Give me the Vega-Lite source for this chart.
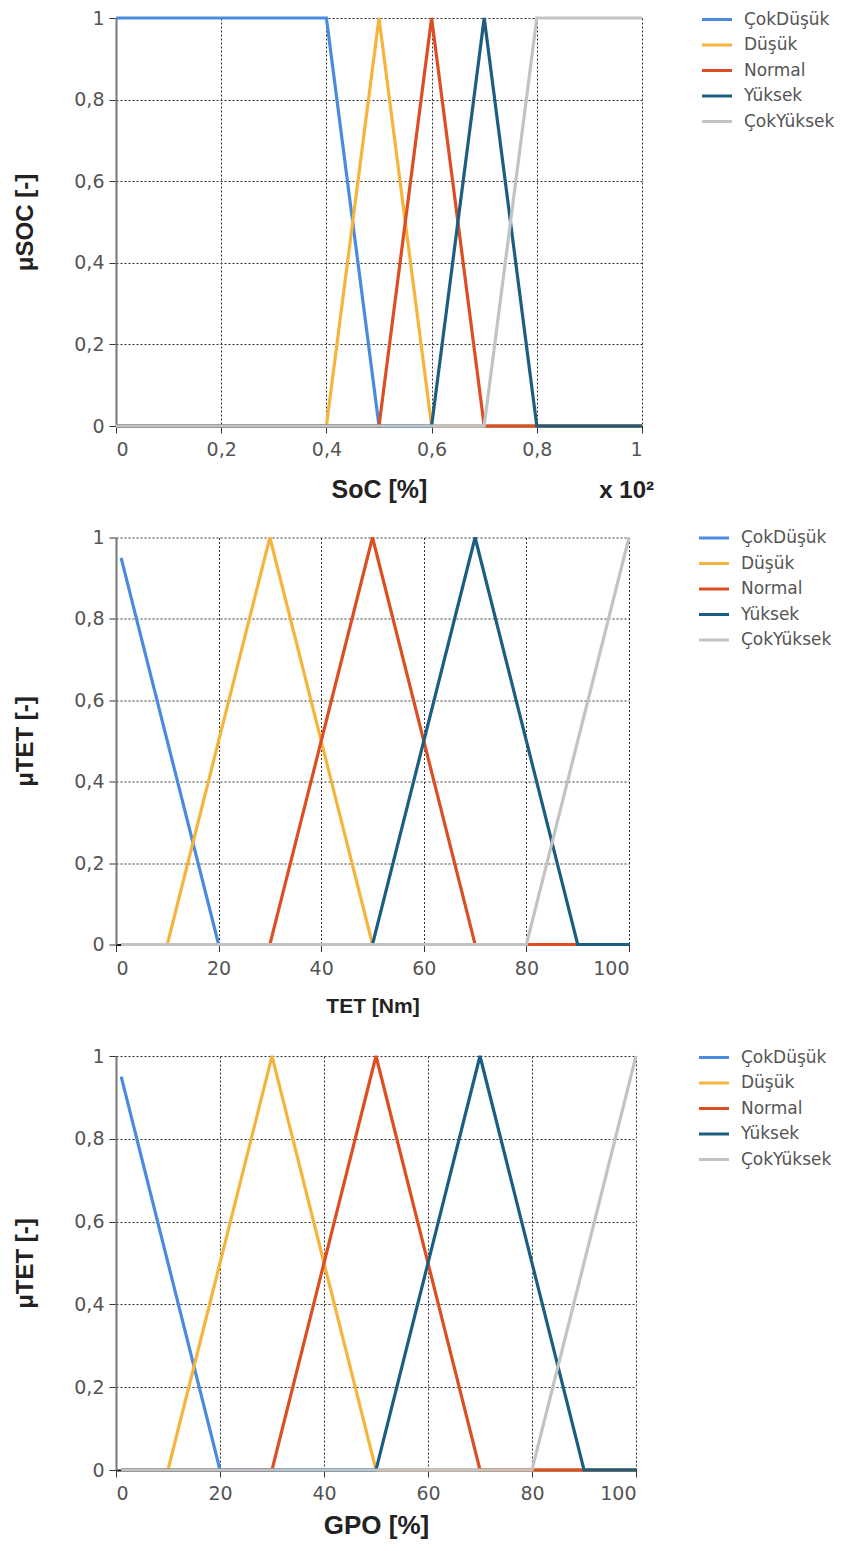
{
  "$schema": "https://vega.github.io/schema/vega-lite/v6.json",
  "padding": {"left": 13, "top": 9, "right": 0, "bottom": 5},
  "background": "white",
  "spacing": 111.5,
  "bounds": "flush",
  "align": "none",
  "config": {
    "font": "Liberation Sans",
    "view": {"stroke": null},
    "axis": {
      "gridColor": "#333", "gridDash": [2, 2], "gridOpacity": 1, "gridWidth": 1,
      "labelFontSize": 19, "labelColor": "#555", "labelFont": "DejaVu Sans",
      "titleFontSize": 24, "titleFontWeight": "bold", "titleColor": "#222", "titleFont": "Liberation Sans",
      "tickColor": "#333", "tickSize": 7
    },
    "axisY": {"domainColor": "#777", "domainWidth": 2, "titlePadding": 36, "labelPadding": 5},
    "axisX": {"domainColor": "#111", "domainWidth": 2, "labelPadding": 7.5},
    "legend": {
      "orient": "none", "symbolType": "stroke", "symbolStrokeWidth": 3.5,
      "symbolSize": 900, "clipHeight": 17, "rowPadding": 7.5, "labelFontSize": 17, "labelFont": "DejaVu Sans",
      "labelColor": "#555", "labelOffset": 10, "title": null, "padding": 0
    },
    "line": {"strokeWidth": 3.2}
  },
  "datasets": {
    "soc": [
      {"set": "ÇokDüşük", "x": 0, "y": 1}, {"set": "ÇokDüşük", "x": 0.4, "y": 1}, {"set": "ÇokDüşük", "x": 0.5, "y": 0}, {"set": "ÇokDüşük", "x": 1, "y": 0},
      {"set": "Düşük", "x": 0, "y": 0}, {"set": "Düşük", "x": 0.4, "y": 0}, {"set": "Düşük", "x": 0.5, "y": 1}, {"set": "Düşük", "x": 0.6, "y": 0}, {"set": "Düşük", "x": 1, "y": 0},
      {"set": "Normal", "x": 0, "y": 0}, {"set": "Normal", "x": 0.5, "y": 0}, {"set": "Normal", "x": 0.6, "y": 1}, {"set": "Normal", "x": 0.7, "y": 0}, {"set": "Normal", "x": 1, "y": 0},
      {"set": "Yüksek", "x": 0, "y": 0}, {"set": "Yüksek", "x": 0.6, "y": 0}, {"set": "Yüksek", "x": 0.7, "y": 1}, {"set": "Yüksek", "x": 0.8, "y": 0}, {"set": "Yüksek", "x": 1, "y": 0},
      {"set": "ÇokYüksek", "x": 0, "y": 0}, {"set": "ÇokYüksek", "x": 0.7, "y": 0}, {"set": "ÇokYüksek", "x": 0.8, "y": 1}, {"set": "ÇokYüksek", "x": 1, "y": 1}
    ],
    "tet": [
      {"set": "ÇokDüşük", "x": 1, "y": 0.95}, {"set": "ÇokDüşük", "x": 20, "y": 0}, {"set": "ÇokDüşük", "x": 100, "y": 0},
      {"set": "Düşük", "x": 1, "y": 0}, {"set": "Düşük", "x": 10, "y": 0}, {"set": "Düşük", "x": 30, "y": 1}, {"set": "Düşük", "x": 50, "y": 0}, {"set": "Düşük", "x": 100, "y": 0},
      {"set": "Normal", "x": 1, "y": 0}, {"set": "Normal", "x": 30, "y": 0}, {"set": "Normal", "x": 50, "y": 1}, {"set": "Normal", "x": 70, "y": 0}, {"set": "Normal", "x": 100, "y": 0},
      {"set": "Yüksek", "x": 1, "y": 0}, {"set": "Yüksek", "x": 50, "y": 0}, {"set": "Yüksek", "x": 70, "y": 1}, {"set": "Yüksek", "x": 90, "y": 0}, {"set": "Yüksek", "x": 100, "y": 0},
      {"set": "ÇokYüksek", "x": 1, "y": 0}, {"set": "ÇokYüksek", "x": 80, "y": 0}, {"set": "ÇokYüksek", "x": 100, "y": 1}
    ]
  },
  "vconcat": [
    {
      "width": 526, "height": 408,
      "data": {"name": "soc"},
      "title": {"text": "x 10²", "orient": "bottom", "anchor": "end", "frame": "group", "fontSize": 24, "fontWeight": "bold", "color": "#222", "offset": -24, "dx": 12},
      "encoding": {
        "x": {"field": "x", "type": "quantitative", "scale": {"domain": [0, 1], "nice": false, "zero": false},
              "axis": {"values": [0, 0.2, 0.4, 0.6, 0.8, 1], "labelExpr": "replace(toString(datum.value), '.', ',')", "title": "SoC [%]", "titleFontSize": 25, "titlePadding": 18}},
        "y": {"field": "y", "type": "quantitative", "scale": {"domain": [0, 1], "nice": false},
              "axis": {"values": [0, 0.2, 0.4, 0.6, 0.8, 1], "labelExpr": "replace(toString(datum.value), '.', ',')", "title": "μSOC [-]"}},
        "color": {"field": "set", "type": "nominal",
                  "scale": {"domain": ["ÇokDüşük", "Düşük", "Normal", "Yüksek", "ÇokYüksek"], "range": ["#4a8be0", "#f4b43e", "#dc4f22", "#1b5e80", "#c3c3c3"]},
                  "legend": {"legendX": 584, "legendY": -7}}
      },
      "layer": [
        {"transform": [{"filter": "datum.set === 'ÇokDüşük'"}], "mark": {"type": "line", "clip": false}},
        {"transform": [{"filter": "datum.set === 'Düşük'"}], "mark": {"type": "line", "clip": false}},
        {"transform": [{"filter": "datum.set === 'Normal'"}], "mark": {"type": "line", "clip": false}},
        {"transform": [{"filter": "datum.set === 'Yüksek'"}], "mark": {"type": "line", "clip": false}},
        {"transform": [{"filter": "datum.set === 'ÇokYüksek'"}], "mark": {"type": "line", "clip": false}}
      ]
    },
    {
      "width": 513, "height": 407,
      "data": {"name": "tet"},
      "encoding": {
        "x": {"field": "x", "type": "quantitative", "scale": {"domain": [0, 100], "nice": false, "zero": false},
              "axis": {"values": [0, 20, 40, 60, 80, 100], "title": "TET [Nm]", "titleFontSize": 21, "titlePadding": 17}},
        "y": {"field": "y", "type": "quantitative", "scale": {"domain": [0, 1], "nice": false},
              "axis": {"values": [0, 0.2, 0.4, 0.6, 0.8, 1], "labelExpr": "replace(toString(datum.value), '.', ',')", "title": "μTET [-]"}},
        "color": {"field": "set", "type": "nominal",
                  "scale": {"domain": ["ÇokDüşük", "Düşük", "Normal", "Yüksek", "ÇokYüksek"], "range": ["#4a8be0", "#f4b43e", "#dc4f22", "#1b5e80", "#c3c3c3"]},
                  "legend": {"legendX": 581, "legendY": -8}}
      },
      "layer": [
        {"transform": [{"filter": "datum.set === 'ÇokDüşük'"}], "mark": {"type": "line", "clip": false}},
        {"transform": [{"filter": "datum.set === 'Düşük'"}], "mark": {"type": "line", "clip": false}},
        {"transform": [{"filter": "datum.set === 'Normal'"}], "mark": {"type": "line", "clip": false}},
        {"transform": [{"filter": "datum.set === 'Yüksek'"}], "mark": {"type": "line", "clip": false}},
        {"transform": [{"filter": "datum.set === 'ÇokYüksek'"}], "mark": {"type": "line", "clip": false}}
      ]
    },
    {
      "width": 520, "height": 414,
      "data": {"name": "tet"},
      "encoding": {
        "x": {"field": "x", "type": "quantitative", "scale": {"domain": [0, 100], "nice": false, "zero": false},
              "axis": {"values": [0, 20, 40, 60, 80, 100], "title": "GPO [%]", "titleFontSize": 26, "titlePadding": 8.5}},
        "y": {"field": "y", "type": "quantitative", "scale": {"domain": [0, 1], "nice": false},
              "axis": {"values": [0, 0.2, 0.4, 0.6, 0.8, 1], "labelExpr": "replace(toString(datum.value), '.', ',')", "title": "μTET [-]"}},
        "color": {"field": "set", "type": "nominal",
                  "scale": {"domain": ["ÇokDüşük", "Düşük", "Normal", "Yüksek", "ÇokYüksek"], "range": ["#4a8be0", "#f4b43e", "#dc4f22", "#1b5e80", "#c3c3c3"]},
                  "legend": {"legendX": 581, "legendY": -7}}
      },
      "layer": [
        {"transform": [{"filter": "datum.set === 'ÇokDüşük'"}], "mark": {"type": "line", "clip": false}},
        {"transform": [{"filter": "datum.set === 'Düşük'"}], "mark": {"type": "line", "clip": false}},
        {"transform": [{"filter": "datum.set === 'Normal'"}], "mark": {"type": "line", "clip": false}},
        {"transform": [{"filter": "datum.set === 'Yüksek'"}], "mark": {"type": "line", "clip": false}},
        {"transform": [{"filter": "datum.set === 'ÇokYüksek'"}], "mark": {"type": "line", "clip": false}}
      ]
    }
  ],
  "resolve": {"scale": {"color": "independent", "x": "independent", "y": "independent"}}
}
